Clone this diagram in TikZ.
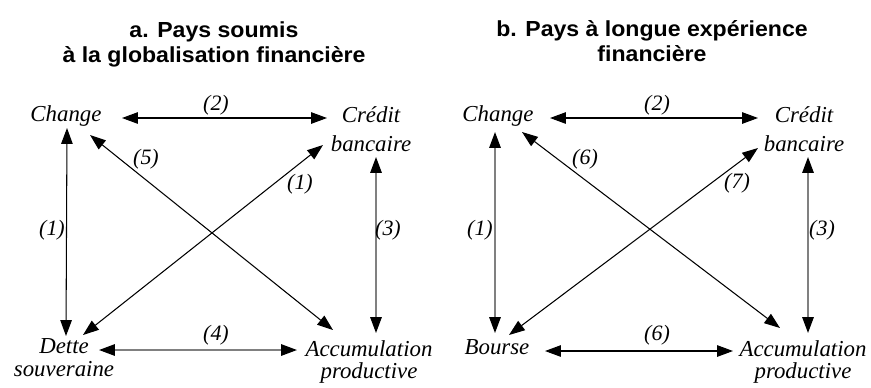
\documentclass[tikz,border=0pt]{standalone}
\usepackage{fontspec}
\setmainfont{Liberation Serif}
\newfontfamily\titlefont[FakeStretch=1.06]{Liberation Sans}
\usepackage{tikz}
\usetikzlibrary{calc,arrows.meta}
\tikzset{
	pole/.style={font=\fontsize{13}{13}\selectfont\itshape, align=center, inner sep=0pt},
	num/.style={font=\fontsize{12.5}{13}\selectfont\itshape, inner sep=0pt},
	titre/.style={font=\titlefont\bfseries\fontsize{12.4}{14.2}\selectfont, align=center, inner sep=0pt},
	fl/.style={>={Triangle[length=9pt,width=6.5pt,color=black]}, <->, line width=0.6pt},
	flg/.style={fl, draw=black!50, line width=0.8pt}
}

\begin{document}
\begin{tikzpicture}[x=0.02cm, y=-0.02cm]
	%%%%% START %%%%%
	\useasboundingbox (0,0) rectangle (871,387);
	
	\node[titre] (tA) at (214,44) {a. Pays soumis\\à la globalisation financière};
	\node[titre] (tB) at (652,41) {b. Pays à longue expérience\\financière};
	
	% a. globalisation
	\node[pole] (chA) at (66,116) {Change};
	\node[pole] (crA) at (371,129) {Crédit\\[3.4pt]bancaire};
	\node[pole] (deA) at (64,358) {Dette\\souveraine};
	\node[pole] (acA) at (369,362) {Accumulation\\productive};
	
	\draw[fl] ($(chA)+(56,2)$) -- ($(crA)+(-44,-11)$);
	\draw[fl] ($(chA)+(1,12)$) -- ($(deA)+(2,-22)$);
	\draw[flg] ($(crA)+(5,28)$) -- ($(acA)+(7,-29)$);
	\draw[fl] ($(chA)+(24,19)$) -- ($(acA)+(-36,-32)$);
	\draw[fl] ($(crA)+(-48,16)$) -- ($(deA)+(19,-23)$);
	\draw[flg] ($(deA)+(35,-8)$) -- ($(acA)+(-72,-12)$);
	
	\node[num] (a2) at (216,105) {(2)};
	\node[num] (a1) at (52,230) {(1)};
	\node[num] (a3) at (388,230) {(3)};
	\node[num] (a5) at (146,159) {(5)};
	\node[num] (a1d) at (300,184) {(1)};
	\node[num] (a4) at (216,335) {(4)};
	
	% b. longue experience
	\node[pole] (chB) at (498,116) {Change};
	\node[pole] (crB) at (804,129) {Crédit\\[3.4pt]bancaire};
	\node[pole] (boB) at (497,347) {Bourse};
	\node[pole] (acB) at (803,362) {Accumulation\\productive};
	
	\draw[fl] ($(chB)+(52,2)$) -- ($(crB)+(-46,-11)$);
	\draw[flg] ($(chB)+(-3,16)$) -- ($(boB)+(-2,-14)$);
	\draw[flg] ($(crB)+(4,28)$) -- ($(acB)+(5,-29)$);
	\draw[fl] ($(chB)+(24,16)$) -- ($(acB)+(-23,-34)$);
	\draw[fl] ($(crB)+(-46,19)$) -- ($(boB)+(12,-12)$);
	\draw[fl] ($(boB)+(48,4)$) -- ($(acB)+(-70,-11)$);
	
	\node[num] (b2) at (657,105) {(2)};
	\node[num] (b1) at (480,230) {(1)};
	\node[num] (b3) at (822,230) {(3)};
	\node[num] (b6) at (585,159) {(6)};
	\node[num] (b7) at (737,183) {(7)};
	\node[num] (b6b) at (657,335) {(6)};
	
	%%%%% END %%%%%
\end{tikzpicture}
\end{document}
